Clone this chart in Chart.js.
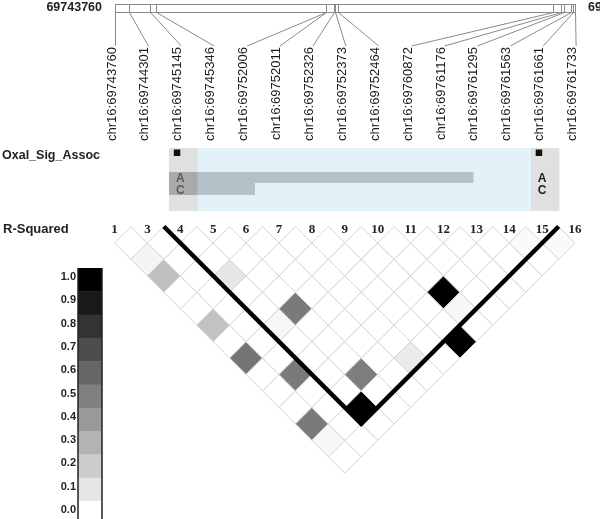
<!DOCTYPE html>
<html><head><meta charset="utf-8">
<script src="https://cdn.jsdelivr.net/npm/chart.js@4"></script>
<style>html,body{margin:0;padding:0;background:#fff;overflow:hidden}canvas{display:block}</style>
</head><body>
<canvas id="c" width="600" height="519"></canvas>
<script>
// ---------------- DATA ----------------
const regionStart = 69743760;
const regionEnd = 69761733;
const markerPositions = [69743760,69744301,69745145,69745346,69752006,69752011,69752326,69752373,69752464,69760872,69761176,69761295,69761563,69761661,69761733];
const markerNumbers = ["1","3","4","5","6","7","8","9","10","11","12","13","14","15","16"];
const markerNames = markerPositions.map(p => "chr16:" + p);
// LD (r-squared) for marker pairs (indices into the marker lists); all other pairs ~0
const ldFirst  = [0,    0,    2,    3,    0,    0,    1,    3,    0,    2,   8,   7,   5,    0,    8,    12,   13,   2   ];
const ldSecond = [2,    3,    5,    8,    6,    8,    10,   12,   12,   13,  12,  14,  13,   13,   13,   13,   14,   8   ];
const ldR2     = [0.04, 0.25, 0.10, 0.52, 0.24, 0.54, 0.52, 0.51, 0.52, 1.0, 1.0, 1.0, 0.08, 0.03, 0.03, 0.02, 0.02, 0.03];
// haplotype block (marker indices)
const blockFirst = 2, blockLast = 13;
// association track
const trackName = "Oxal_Sig_Assoc";
const sigMarkers = [2, 13];
const alleles = ["A", "C"];
const alleleFreq = [0.78, 0.22];
// R-squared legend levels
const legendLevels = [1.0,0.9,0.8,0.7,0.6,0.5,0.4,0.3,0.2,0.1,0.0];
const legendLabels = ["1.0","0.9","0.8","0.7","0.6","0.5","0.4","0.3","0.2","0.1","0.0"];

// ---------------- LAYOUT (pixels) ----------------
const W = 600, H = 519;
const SP = 32.9;          // px per marker step
const X0 = 114.5;         // px of first marker
const Y0 = 226.5;         // px of LD triangle top
const BAR_L = 115, BAR_R = 575;
const xMin = -X0 / SP, xMax = xMin + W / SP;
const yMin = -Y0 / SP, yMax = yMin + H / SP;
const gPerPx = (regionEnd - regionStart) / (BAR_R - BAR_L);
const gMin = regionStart - BAR_L * gPerPx, gMax = gMin + W * gPerPx;

function gray(v){ const c = Math.round(255 * (1 - v)); return `rgb(${c},${c},${c})`; }

const ldPoints = [];
for (let i = 0; i < markerPositions.length; i++) {
  for (let j = i + 1; j < markerPositions.length; j++) {
    let r2 = 0;
    for (let k = 0; k < ldFirst.length; k++) if (ldFirst[k] === i && ldSecond[k] === j) r2 = ldR2[k];
    ldPoints.push({x: (i + j) / 2, y: (j - i) / 2, r2});
  }
}
const blockLine = [
  {x: blockFirst - 0.5, y: 0},
  {x: (blockFirst + blockLast) / 2, y: (blockLast - blockFirst) / 2 + 0.5},
  {x: blockLast + 0.5, y: 0}
];

const SANS = '"Liberation Sans", Arial, sans-serif';
const SERIF = '"Liberation Serif", "Times New Roman", serif';

const haploPlugin = {
  id: 'haplo',
  beforeDatasetsDraw(chart) {
    const ctx = chart.ctx, sx = chart.scales.x, sg = chart.scales.g;
    const mx = i => sx.getPixelForValue(i);
    ctx.save();
    // ---- genomic region bar ----
    ctx.font = 'bold 12.5px ' + SANS;
    ctx.fillStyle = '#222';
    ctx.textBaseline = 'middle';
    ctx.textAlign = 'right';
    ctx.fillText(String(regionStart), 102, 8);
    ctx.textAlign = 'left';
    ctx.fillText(String(regionEnd), 588, 8);
    const bl = sg.getPixelForValue(regionStart), br = sg.getPixelForValue(regionEnd);
    ctx.strokeStyle = '#8a8a8a';
    ctx.lineWidth = 1;
    ctx.strokeRect(Math.round(bl) + 0.5, 4.5, br - bl, 8);
    markerPositions.forEach((p, i) => {
      const gx = Math.round(sg.getPixelForValue(p)) + 0.5;
      ctx.beginPath(); ctx.moveTo(gx, 4.5); ctx.lineTo(gx, 12.5); ctx.stroke();
      ctx.beginPath(); ctx.moveTo(gx, 12.5); ctx.lineTo(mx(i) + 1, 46); ctx.stroke();
    });
    // ---- marker names ----
    ctx.fillStyle = '#1a1a1a';
    ctx.font = '13px ' + SANS;
    markerNames.forEach((n, i) => {
      ctx.save();
      ctx.translate(mx(i) - 2.5, 47);
      ctx.rotate(-Math.PI / 2);
      ctx.textAlign = 'right';
      ctx.textBaseline = 'middle';
      ctx.fillText(n, 0, 0);
      ctx.restore();
    });
    // ---- association track ----
    ctx.font = 'bold 12.5px ' + SANS;
    ctx.fillStyle = '#222';
    ctx.textAlign = 'left';
    ctx.textBaseline = 'alphabetic';
    ctx.fillText(trackName, 2, 158.5);
    const colL = i => mx(i) - 0.34 * SP, colR = i => mx(i) + 0.52 * SP;
    const tL = colL(sigMarkers[0]), tR = colR(sigMarkers[sigMarkers.length - 1]);
    const tTop = 148, tBot = 211;
    ctx.fillStyle = '#e3f1f9';
    ctx.fillRect(tL, tTop, tR - tL, tBot - tTop);
    ctx.fillStyle = '#e0e0e0';
    sigMarkers.forEach(i => ctx.fillRect(colL(i), tTop, colR(i) - colL(i), tBot - tTop));
    ctx.fillStyle = '#111';
    sigMarkers.forEach(i => ctx.fillRect(mx(i) - 6.5, 149.5, 6.5, 6.5));
    // allele frequency bars
    const barY = [[172, 183], [183, 195]];
    const barExt = [];
    alleleFreq.forEach((f, k) => {
      const x1 = tL + f * (tR - tL);
      barExt.push(x1);
      ctx.fillStyle = '#b3c1c8';
      ctx.fillRect(tL, barY[k][0], x1 - tL, barY[k][1] - barY[k][0]);
      sigMarkers.forEach(i => {
        const a = Math.max(colL(i), tL), b = Math.min(colR(i), x1);
        if (b > a) { ctx.fillStyle = '#a9aaab'; ctx.fillRect(a, barY[k][0], b - a, barY[k][1] - barY[k][0]); }
      });
    });
    ctx.font = 'bold 12px ' + SANS;
    ctx.textAlign = 'center';
    ctx.textBaseline = 'middle';
    sigMarkers.forEach(i => {
      alleles.forEach((a, k) => {
        ctx.fillStyle = mx(i) < barExt[k] ? '#5a5a5a' : '#222';
        ctx.fillText(a, mx(i), 179 + k * 12);
      });
    });
    // ---- LD header ----
    ctx.font = 'bold 13px ' + SANS;
    ctx.fillStyle = '#222';
    ctx.textAlign = 'left';
    ctx.fillText('R-Squared', 3, 229.5);
    ctx.font = 'bold 13px ' + SERIF;
    ctx.textAlign = 'center';
    markerNumbers.forEach((n, i) => ctx.fillText(n, mx(i), 230));
    // ---- legend ----
    const LX = 78, LW = 24, LT = 268, LH = 23.3;
    legendLevels.forEach((v, k) => {
      ctx.fillStyle = gray(v);
      ctx.fillRect(LX, LT + k * LH, LW, LH + 0.5);
    });
    ctx.strokeStyle = '#222';
    ctx.lineWidth = 1.5;
    ctx.beginPath();
    ctx.moveTo(LX, LT); ctx.lineTo(LX, H);
    ctx.moveTo(LX + LW, LT); ctx.lineTo(LX + LW, H);
    ctx.stroke();
    ctx.font = 'bold 11px ' + SANS;
    ctx.fillStyle = '#222';
    ctx.textAlign = 'right';
    legendLabels.forEach((t, k) => ctx.fillText(t, 76, LT + k * LH + 9));
    ctx.restore();
  }
};

new Chart(document.getElementById('c'), {
  type: 'scatter',
  data: {
    datasets: [
      {
        type: 'line',
        data: blockLine,
        borderColor: '#000',
        borderWidth: 4.5,
        pointRadius: 0,
        fill: false,
        tension: 0,
        order: 0
      },
      {
        data: ldPoints,
        pointStyle: 'rectRot',
        radius: c => c.chart.scales.x.getPixelForValue(0.5) - c.chart.scales.x.getPixelForValue(0),
        backgroundColor: c => gray(c.raw ? c.raw.r2 : 0),
        borderColor: '#d4d4d4',
        borderWidth: 1,
        order: 1
      }
    ]
  },
  options: {
    responsive: false,
    devicePixelRatio: 1,
    animation: false,
    events: [],
    layout: {padding: 0},
    plugins: {legend: {display: false}, tooltip: {enabled: false}, title: {display: false}},
    scales: {
      x: {type: 'linear', min: xMin, max: xMax, display: false},
      y: {type: 'linear', min: yMin, max: yMax, reverse: true, display: false},
      g: {type: 'linear', axis: 'x', min: gMin, max: gMax, display: false}
    }
  },
  plugins: [haploPlugin]
});
</script>
</body></html>
